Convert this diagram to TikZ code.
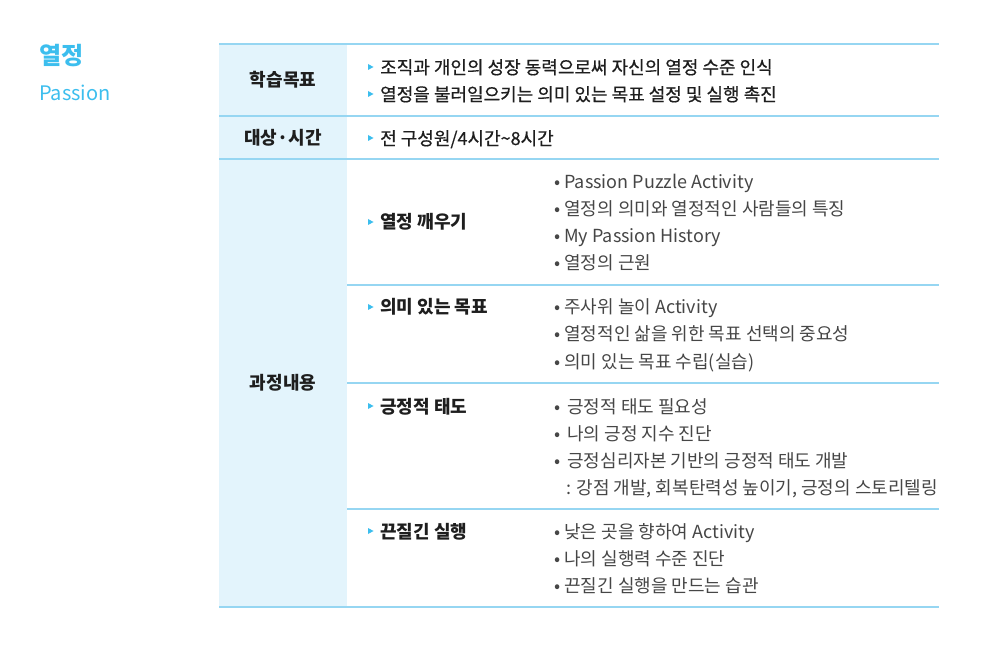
\documentclass[tikz,border=0pt]{standalone}
\usepackage{fontspec}
\setmainfont{Noto Sans CJK KR}
\newfontfamily\medfont[FakeBold=0.5]{Noto Sans CJK KR}
\usetikzlibrary{calc}
\definecolor{skyline}{RGB}{150,214,242}
\definecolor{skyfill}{RGB}{227,244,252}
\definecolor{skytext}{RGB}{60,190,238}
\definecolor{bodytext}{RGB}{70,70,70}
\definecolor{headtext}{RGB}{30,30,30}
\tikzset{
  rule/.style={draw=skyline, line width=1.3pt},
  head/.style={font=\fontsize{18}{20}\selectfont\bfseries, text=headtext, inner sep=0pt},
  sub/.style={head, anchor=west, text height=14pt, text depth=0pt},
  aim/.style={anchor=west, inner sep=0pt, text height=14pt, text depth=0pt,
    font=\fontsize{18}{20}\selectfont\medfont, text=headtext},
  item/.style={anchor=west, inner sep=0pt, text height=14pt, text depth=0pt,
    font=\fontsize{18}{20}\selectfont, text=bodytext},
}
\newcommand\tribul[1]{\fill[skytext] ($(#1.west)+(-12,0)$) ++(0,-3) -- ++(5.5,3) -- ++(-5.5,3) -- cycle;}
\begin{document}
\begin{tikzpicture}[x=1pt, y=-1pt]
  \useasboundingbox[fill=white] (0,0) rectangle (988,652);
  % title
  \node[anchor=west, inner sep=0pt, text=skytext, font=\fontsize{24}{26}\selectfont\bfseries] (title) at (39,56) {열정};
  \node[anchor=west, inner sep=0pt, text=skytext, font=\fontsize{20}{22}\selectfont] (subtitle) at (39,93) {Passion};
  % table frame
  \fill[skyfill] (219,44) rectangle (347,607);
  \foreach \y in {44, 116, 159, 607}
    \draw[rule] (219,\y) -- (939,\y);
  \foreach \y in {285, 383, 509}
    \draw[rule] (347,\y) -- (939,\y);
  % left column
  \node[head] (goalhead) at (283,80) {학습목표};
  \node[head] (whohead) at (283,138) {대상·시간};
  \node[head] (prochead) at (283,383) {과정내용};
  % top rows
  \node[aim] (aim-1) at (380,67) {조직과 개인의 성장 동력으로써 자신의 열정 수준 인식};
  \node[aim] (aim-2) at (380,94) {열정을 불러일으키는 의미 있는 목표 설정 및 실행 촉진};
  \node[aim] (who) at (380,138) {전 구성원/4시간\textasciitilde 8시간};
  \foreach \n in {aim-1, aim-2, who}
    \tribul{\n};
  % process rows
  \node[sub] (wake) at (380,222) {열정 깨우기};
  \node[sub] (goal) at (380,307) {의미 있는 목표};
  \node[sub] (posi) at (380,406) {긍정적 태도};
  \node[sub] (grit) at (380,531) {끈질긴 실행};
  \foreach \n in {wake, goal, posi, grit}
    \tribul{\n};
  \foreach \t [count=\i] in {Passion Puzzle Activity, 열정의 의미와 열정적인 사람들의 특징,
      My Passion History, 열정의 근원}
    \node[item] (wake-\i) at (554,182+27*\i-27) {• \t};
  \foreach \t [count=\i] in {주사위 놀이 Activity, 열정적인 삶을 위한 목표 선택의 중요성,
      의미 있는 목표 수립(실습)}
    \node[item] (goal-\i) at (554,307+27*\i-27) {• \t};
  \foreach \t [count=\i] in {긍정적 태도 필요성, 나의 긍정 지수 진단,
      긍정심리자본 기반의 긍정적 태도 개발}
    \node[item] (posi-\i) at (554,406+27*\i-27) {•\, \t};
  \node[item] (posi-4) at (566,487) {: 강점 개발, 회복탄력성 높이기, 긍정의 스토리텔링};
  \foreach \t [count=\i] in {낮은 곳을 향하여 Activity, 나의 실행력 수준 진단,
      끈질긴 실행을 만드는 습관}
    \node[item] (grit-\i) at (554,531+27*\i-27) {• \t};
\end{tikzpicture}
\end{document}
